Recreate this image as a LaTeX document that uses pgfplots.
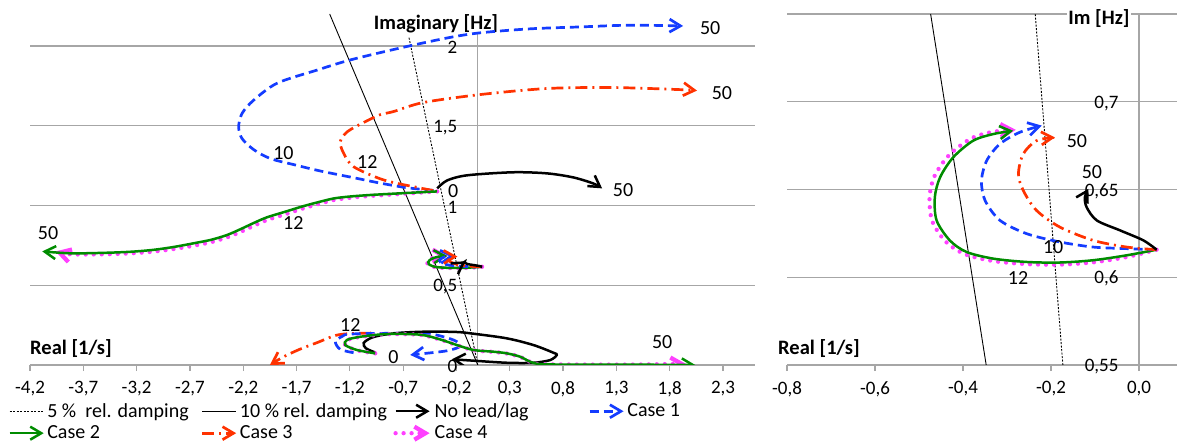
\documentclass[border=0pt]{standalone}
\usepackage{pgfplots}
\pgfplotsset{compat=1.18}
\usepackage{pgfplotstable}
\usepackage{fontspec}
\setmainfont{Carlito}
\usetikzlibrary{arrows.meta}

\definecolor{cblue}{RGB}{20,60,255}
\definecolor{cred}{RGB}{255,50,0}
\definecolor{cgreen}{RGB}{0,140,0}
\definecolor{cmag}{RGB}{255,64,255}
\definecolor{cgrid}{RGB}{166,166,166}
\newcommand\annot{\fontsize{20}{24}\selectfont}
\newcommand\tickf{\fontsize{19}{22}\selectfont}
\newcommand\titf{\bfseries\fontsize{20.5}{24}\selectfont}

% ---------- upper mode (left chart only) ----------
\pgfplotstableread{
x y
-0.415 1.094
-0.664 1.111
-0.915 1.140
-1.165 1.174
-1.477 1.216
-1.727 1.256
-1.946 1.294
-2.102 1.350
-2.211 1.419
-2.243 1.492
-2.211 1.577
-2.102 1.660
-1.880 1.767
-1.505 1.849
-1.196 1.912
-0.727 1.987
-0.286 2.050
0.022 2.082
0.491 2.107
0.961 2.119
1.429 2.130
1.926 2.125
}\tblBlueUp
\pgfplotstableread{
x y
-0.418 1.094
-0.568 1.113
-0.884 1.160
-1.165 1.243
-1.258 1.327
-1.290 1.400
-1.224 1.462
-1.074 1.519
-0.915 1.569
-0.793 1.588
-0.512 1.645
0.022 1.695
0.650 1.733
1.269 1.739
1.897 1.726
2.056 1.720
}\tblRedUp
\pgfplotstableread{
x y
-0.381 1.088
-0.727 1.076
-1.000 1.066
-1.200 1.056
-1.350 1.044
-1.500 1.020
-1.650 0.993
-1.800 0.962
-1.980 0.925
-2.102 0.890
-2.230 0.850
-2.351 0.815
-2.500 0.785
-2.664 0.763
-2.850 0.740
-3.039 0.722
-3.250 0.710
-3.508 0.703
-3.820 0.700
-4.085 0.712
}\tblGreenUp
\pgfplotstableread{
x y
-0.381 1.088
-0.727 1.072
-1.000 1.060
-1.200 1.048
-1.350 1.034
-1.500 1.008
-1.650 0.979
-1.800 0.946
-1.980 0.908
-2.102 0.872
-2.230 0.833
-2.351 0.800
-2.500 0.770
-2.664 0.748
-2.850 0.727
-3.039 0.711
-3.250 0.700
-3.508 0.694
-3.820 0.694
-3.960 0.712
}\tblMagUp
\pgfplotstableread{
x y
-0.381 1.107
-0.287 1.157
-0.099 1.189
0.332 1.208
0.650 1.201
0.894 1.176
1.082 1.138
1.166 1.107
}\tblBlackUp

% ---------- middle mode (both charts) ----------
\pgfplotstableread{
x y
0.040 0.6157
-0.028 0.6125
-0.104 0.6097
-0.180 0.6084
-0.255 0.6087
-0.331 0.6106
-0.392 0.6144
-0.430 0.6210
-0.460 0.6324
-0.464 0.6456
-0.452 0.6570
-0.422 0.6684
-0.377 0.6778
-0.331 0.6816
-0.286 0.6835
}\tblGreenMid
\pgfplotstableread{
x y
0.040 0.6157
-0.028 0.6115
-0.104 0.6085
-0.180 0.6072
-0.255 0.6075
-0.333 0.6093
-0.397 0.6133
-0.440 0.6205
-0.470 0.6320
-0.476 0.6456
-0.465 0.6575
-0.432 0.6695
-0.382 0.6790
-0.333 0.6828
-0.280 0.6840
}\tblMagMid
\pgfplotstableread{
x y
0.040 0.6157
-0.028 0.6163
-0.104 0.6172
-0.180 0.6201
-0.255 0.6248
-0.316 0.6324
-0.350 0.6438
-0.358 0.6551
-0.346 0.6665
-0.316 0.6760
-0.271 0.6826
-0.221 0.6864
}\tblBlueMid
\pgfplotstableread{
x y
0.040 0.6157
-0.028 0.6172
-0.104 0.6210
-0.180 0.6286
-0.233 0.6381
-0.263 0.6494
-0.274 0.6589
-0.263 0.6703
-0.233 0.6778
-0.191 0.6797
}\tblRedMid
\pgfplotstableread{
x y
0.040 0.6157
0.010 0.6210
-0.043 0.6267
-0.096 0.6324
-0.119 0.6399
-0.123 0.6456
-0.115 0.6504
}\tblBlackMid

% ---------- lower mode (left chart only) ----------
\pgfplotstableread{
x y
-0.96 0.078
-1.05 0.105
-1.07 0.138
-1.00 0.170
-0.88 0.190
-0.70 0.203
-0.474 0.209
-0.20 0.207
-0.040 0.196
0.273 0.167
0.522 0.125
0.709 0.077
0.741 0.063
0.679 0.031
0.522 0.014
0.273 0.014
-0.040 0.027
-0.243 0.036
}\tblBlackLow
\pgfplotstableread{
x y
-0.962 0.073
-1.133 0.094
-1.243 0.125
-1.227 0.157
-1.102 0.177
-0.852 0.194
-0.540 0.190
-0.352 0.160
-0.196 0.125
-0.040 0.094
0.150 0.083
0.273 0.073
0.397 0.052
0.490 0.021
0.584 0.006
0.900 0.002
1.500 0.002
2.040 0.000
}\tblGreenLow
\pgfplotstableread{
x y
-0.962 0.073
-1.133 0.092
-1.243 0.123
-1.227 0.155
-1.102 0.176
-0.852 0.193
-0.540 0.189
-0.352 0.159
-0.196 0.124
-0.040 0.093
0.150 0.082
0.273 0.072
0.397 0.051
0.490 0.020
0.584 0.006
0.900 0.003
1.500 0.003
1.950 0.008
}\tblMagLow
\pgfplotstableread{
x y
-1.165 0.077
-1.290 0.098
-1.336 0.146
-1.270 0.180
-1.196 0.194
-0.790 0.199
-0.477 0.199
-0.228 0.157
-0.165 0.119
-0.250 0.095
-0.352 0.083
-0.634 0.063
}\tblBlueLow
\pgfplotstableread{
x y
-1.000 0.200
-1.196 0.197
-1.336 0.185
-1.508 0.140
-1.665 0.100
-1.820 0.052
-1.950 0.000
}\tblRedLow

% ---------- damping lines ----------
\pgfplotstableread{
x y
0 0
-0.648 2.06
}\tblFiveL
\pgfplotstableread{
x y
0 0
-1.3893 2.2
}\tblTenL
\pgfplotstableread{
x y
-0.1730 0.55
-0.2359 0.75
}\tblFiveR
\pgfplotstableread{
x y
-0.3473 0.55
-0.4736 0.75
}\tblTenR

\tikzset{arr/.style={-{Straight Barb[length=11pt,width=13pt]}}}
\pgfplotsset{
  noleadlag/.style={black, line width=2.5pt, smooth, arr},
  caseone/.style={cblue, line width=2.7pt, smooth, dash pattern=on 9pt off 5pt, arr},
  casetwo/.style={cgreen, line width=2.5pt, smooth, arr},
  casethree/.style={cred, line width=2.7pt, smooth, dash pattern=on 12pt off 5pt on 2pt off 5pt, arr},
  casefour/.style={cmag, line width=4.3pt, smooth, line cap=round, dash pattern=on 0pt off 8pt, arr},
  dampfive/.style={black, line width=0.9pt, dash pattern=on 2pt off 1.5pt},
  dampten/.style={black, line width=0.9pt},
  rl/.style={
    scale only axis, clip mode=individual,
    axis x line*=bottom, axis y line*=middle,
    hide obscured x ticks=false, hide obscured y ticks=false,
    ymajorgrids, grid style={cgrid, line width=1.2pt},
    axis line style={cgrid, line width=1.2pt},
    tick align=outside, major tick length=6pt,
    xtick style={cgrid, line width=1.2pt},
    ytick style={draw=none},
    tick label style={font=\tickf},
    xticklabel style={yshift=-7pt},
    yticklabel style={anchor=east, xshift=-11pt, yshift=-1.5pt},
  },
}

\begin{document}
\begin{tikzpicture}
\useasboundingbox (0pt,0pt) rectangle (1177pt,444pt);
% ================= left chart =================
\begin{axis}[rl, at={(30pt,79pt)}, anchor=south west,
  width=725pt, height=351pt,
  xmin=-4.2, xmax=2.6, ymin=0, ymax=2.2,
  xtick={-4.2,-3.7,-3.2,-2.7,-2.2,-1.7,-1.2,-0.7,-0.2,0.3,0.8,1.3,1.8,2.3},
  xticklabels={{-4,2},{-3,7},{-3,2},{-2,7},{-2,2},{-1,7},{-1,2},{-0,7},{-0,2},{0,3},{0,8},{1,3},{1,8},{2,3}},
  ytick={0,0.5,1,1.5,2},
  yticklabels={{0},{0,5},{1},{1,5},{2}},
  legend columns=4,
  legend cell align=left,
  legend image code/.code={\draw[#1] (0pt,0pt) -- (34pt,0pt);},
  legend style={at={(axis description cs:-0.030,-0.105)}, anchor=north west,
    draw=none, fill=none, font=\fontsize{20}{22}\selectfont,
    row sep=4pt, inner sep=0pt, nodes={inner sep=1.5pt}},
]
\node[font=\titf, fill=white, inner sep=1pt] at (rel axis cs:0.56,0.9715) {Imaginary [Hz]};
\addlegendimage{dampfive}\addlegendentry{\makebox[152pt][l]{5 \%\ \ rel. damping}}
\addlegendimage{dampten}\addlegendentry{\makebox[152pt][l]{10 \% rel. damping}}
\addlegendimage{noleadlag}\addlegendentry{\makebox[152pt][l]{No lead/lag}}
\addlegendimage{caseone}\addlegendentry{Case 1}
\addlegendimage{casetwo}\addlegendentry{Case 2}
\addlegendimage{casethree}\addlegendentry{Case 3}
\addlegendimage{casefour}\addlegendentry{Case 4}

\addplot[dampfive, forget plot] table {\tblFiveL};
\addplot[dampten, forget plot] table {\tblTenL};

\addplot[caseone, forget plot] table {\tblBlueUp};
\addplot[casethree, forget plot] table {\tblRedUp};
\addplot[casefour, forget plot] table {\tblMagUp};
\addplot[casetwo, forget plot] table {\tblGreenUp};
\addplot[noleadlag, forget plot] table {\tblBlackUp};

\addplot[casefour, forget plot] table {\tblMagMid};
\addplot[casetwo, forget plot] table {\tblGreenMid};
\addplot[caseone, forget plot] table {\tblBlueMid};
\addplot[casethree, forget plot] table {\tblRedMid};
\addplot[noleadlag, forget plot] table {\tblBlackMid};

\addplot[casethree, forget plot] table {\tblRedLow};
\addplot[caseone, forget plot] table {\tblBlueLow};
\addplot[noleadlag, forget plot] table {\tblBlackLow};
\addplot[casefour, forget plot] table {\tblMagLow};
\addplot[casetwo, forget plot] table {\tblGreenLow};

\node[font=\annot] at (axis cs:2.18,2.113) {50};
\node[font=\annot] at (axis cs:2.29,1.705) {50};
\node[font=\annot] at (axis cs:1.363,1.097) {50};
\node[font=\annot, inner sep=0pt] at (axis cs:-0.23,1.092) {0};
\node[font=\annot] at (axis cs:-1.823,1.329) {10};
\node[font=\annot] at (axis cs:-1.036,1.273) {12};
\node[font=\annot] at (axis cs:-1.73,0.890) {12};
\node[font=\annot] at (axis cs:-4.03,0.828) {50};
\node[font=\annot] at (axis cs:-1.196,0.251) {12};
\node[font=\annot] at (axis cs:-0.79,0.050) {0};
\node[font=\annot] at (axis cs:1.73,0.144) {50};
\node[font=\titf, anchor=west, inner sep=0pt] at (rel axis cs:0,0.0456) {Real [1/s]};
\end{axis}

% ================= right chart =================
\begin{axis}[rl, at={(787pt,79pt)}, anchor=south west,
  width=390pt, height=351pt,
  xmin=-0.8, xmax=0.0864, ymin=0.55, ymax=0.75,
  xtick={-0.8,-0.6,-0.4,-0.2,0},
  xticklabels={{-0,8},{-0,6},{-0,4},{-0,2},{0,0}},
  ytick={0.55,0.6,0.65,0.7,0.75},
  yticklabels={{0,55},{0,6},{0,65},{0,7},{}},
]
\node[font=\titf, fill=white, inner sep=1pt] at (rel axis cs:0.8,0.986) {Im [Hz]};
\addplot[dampfive] table {\tblFiveR};
\addplot[dampten] table {\tblTenR};
\addplot[casefour] table {\tblMagMid};
\addplot[casetwo] table {\tblGreenMid};
\addplot[caseone] table {\tblBlueMid};
\addplot[casethree] table {\tblRedMid};
\addplot[noleadlag] table {\tblBlackMid};

\node[font=\annot] at (axis cs:-0.141,0.6778) {50};
\node[font=\annot] at (axis cs:-0.107,0.6597) {50};
\node[font=\annot] at (axis cs:-0.195,0.617) {10};
\node[font=\annot] at (axis cs:-0.275,0.5994) {12};
\node[font=\titf, anchor=west, inner sep=0pt] at (rel axis cs:-0.023,0.0456) {Real [1/s]};
\end{axis}
\end{tikzpicture}
\end{document}
